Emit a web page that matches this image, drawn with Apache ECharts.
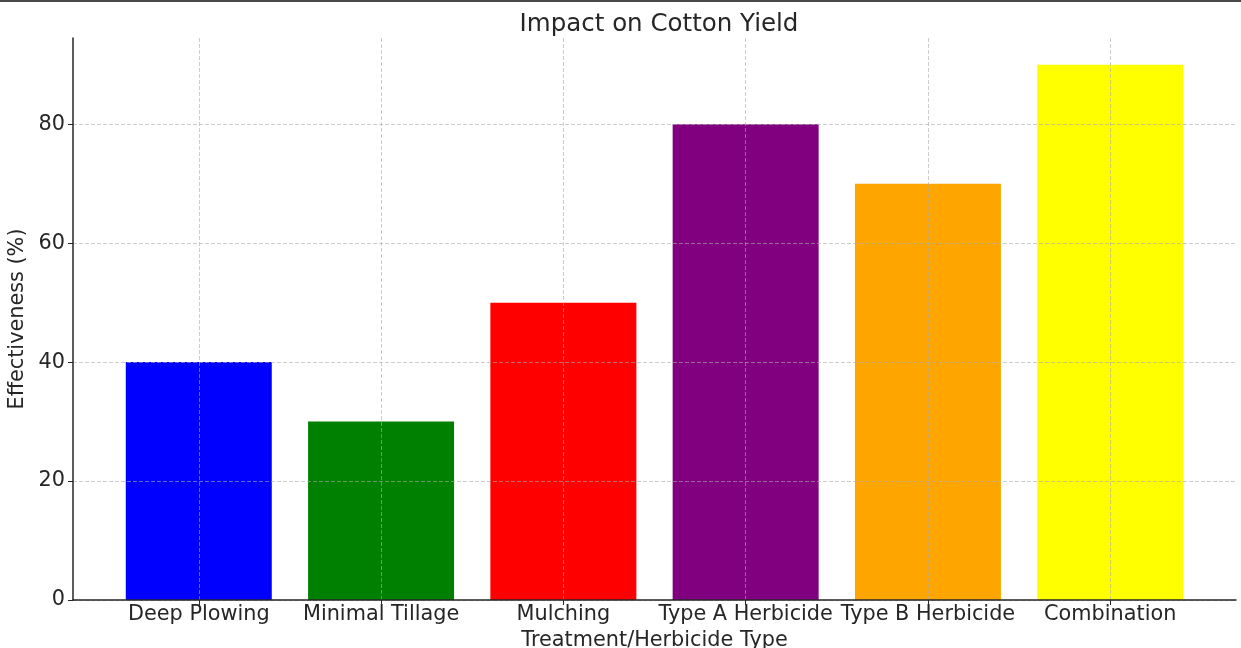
<!DOCTYPE html>
<html>
<head>
<meta charset="utf-8">
<script src="https://cdn.jsdelivr.net/npm/echarts@6/dist/echarts.min.js"></script>
<style>
  html, body { margin: 0; padding: 0; background: #ffffff; }
  #chart { width: 1241px; height: 648px; }
</style>
</head>
<body>
<div id="chart"></div>
<script>
// Treatments and their measured effectiveness on cotton yield
const categories = ['Deep Plowing', 'Minimal Tillage', 'Mulching', 'Type A Herbicide', 'Type B Herbicide', 'Combination'];
const effectiveness = [40, 30, 50, 80, 70, 90];
const barColors = ['#0000ff', '#008000', '#ff0000', '#800080', '#ffa500', '#ffff00'];
const yTicks = [0, 20, 40, 60, 80];

const positions = categories.map((_, i) => i);
const font = 'DejaVu Sans';
const textColor = '#262626';
const gridColor = 'rgba(170,170,170,0.6)';

const chart = echarts.init(document.getElementById('chart'), null, { renderer: 'canvas' });

chart.setOption({
  animation: false,
  backgroundColor: '#ffffff',
  title: {
    text: 'Impact on Cotton Yield',
    left: 654,
    textAlign: 'center',
    top: 7,
    textStyle: { fontFamily: font, fontSize: 24.5, fontWeight: 'normal', color: textColor }
  },
  graphic: [{
    type: 'rect',
    shape: { x: 0, y: 0, width: 1241, height: 2 },
    style: { fill: '#4a4a4a' },
    silent: true
  }],
  grid: { left: 73, right: 5, top: 38, bottom: 48, containLabel: false, outerBoundsMode: 'none' },
  xAxis: {
    type: 'value',
    min: -0.69,
    max: 5.69,
    z: 5,
    name: 'Treatment/Herbicide Type',
    nameLocation: 'middle',
    nameGap: 26,
    nameTextStyle: { fontFamily: font, fontSize: 20.8, color: textColor },
    axisLine: { show: true, onZero: false, lineStyle: { color: '#262626', width: 1.5 } },
    axisTick: { show: true, length: 5, customValues: positions, lineStyle: { color: '#262626', width: 1 } },
    axisLabel: {
      customValues: positions,
      margin: 4,
      fontFamily: font, fontSize: 20.8, color: textColor,
      formatter: v => categories[Math.round(v)]
    },
    splitLine: { show: true, customValues: positions, lineStyle: { color: gridColor, type: [4, 2], width: 1 } }
  },
  yAxis: {
    type: 'value',
    min: 0,
    max: 94.5,
    z: 5,
    name: 'Effectiveness (%)',
    nameLocation: 'middle',
    nameRotate: 90,
    nameGap: 40,
    nameTextStyle: { fontFamily: font, fontSize: 20.8, color: textColor },
    axisLine: { show: true, onZero: false, lineStyle: { color: '#262626', width: 1.5 } },
    axisTick: { show: true, length: 5, customValues: yTicks, lineStyle: { color: '#262626', width: 1 } },
    axisLabel: { customValues: yTicks, margin: 8, fontFamily: font, fontSize: 20.8, color: textColor },
    splitLine: { show: true, customValues: yTicks, lineStyle: { color: gridColor, type: [4, 2], width: 1 } }
  },
  series: [{
    type: 'bar',
    z: 1,
    barWidth: 146,
    data: effectiveness.map((v, i) => ({
      value: [positions[i], v],
      itemStyle: { color: barColors[i] }
    }))
  }]
});
</script>
</body>
</html>
